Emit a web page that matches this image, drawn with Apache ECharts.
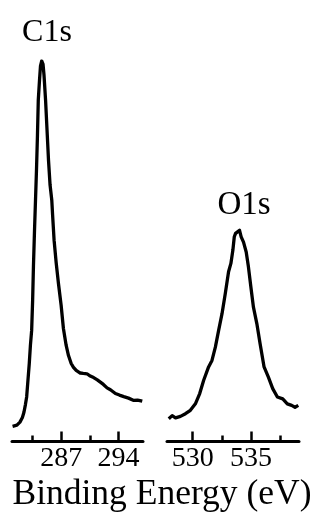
<!DOCTYPE html>
<html>
<head>
<meta charset="utf-8">
<script src="https://cdn.jsdelivr.net/npm/echarts@6/dist/echarts.min.js"></script>
<style>html,body{margin:0;padding:0;background:#fff;}#c{width:320px;height:525px;}</style>
</head>
<body>
<div id="c"></div>
<script>
// C1s region: binding energy (eV) and intensity (a.u., peak = 100)
var c1sEnergy = [281.07,281.60,281.97,282.27,282.46,282.64,282.79,282.95,283.11,283.25,283.40,283.52,283.62,283.75,283.87,283.99,284.11,284.21,284.36,284.48,284.63,284.79,284.91,285.10,285.28,285.46,285.65,285.86,285.96,286.14,286.39,286.67,287.00,287.28,287.61,287.90,288.23,288.51,288.84,289.33,289.70,290.16,290.56,290.97,291.42,291.79,292.16,292.61,293.02,293.63,294.12,294.65,295.23,295.88,296.33,296.91];
var c1sIntensity = [4.0,4.3,5.1,6.3,7.7,9.7,11.7,16.1,20.5,25.3,29.2,37.1,46.1,55.5,63.4,71.3,80.5,89.7,95.0,98.7,100,99.2,96.3,89.7,81.8,73.9,67.4,63.4,59.5,52.9,47.1,41.6,35.8,29.7,25.3,22.6,20.5,19.5,18.7,18.0,17.9,17.8,17.2,16.8,16.2,15.6,15.0,14.1,13.6,12.6,12.2,11.8,11.4,10.8,10.9,10.6];
// O1s region
var o1sEnergy = [527.95,528.24,528.53,528.95,529.38,529.80,530.23,530.60,530.94,531.36,531.65,531.94,532.22,532.51,532.79,533.07,533.27,533.44,533.56,533.67,533.84,534.01,534.15,534.35,534.58,534.77,534.98,535.20,535.49,535.77,536.11,536.48,536.85,537.25,537.71,538.10,538.47,538.76,539.04];
var o1sIntensity = [6.0,6.8,6.2,6.6,7.3,8.2,9.9,12.6,16.1,19.6,21.3,24.8,29.2,33.6,38.9,44.6,46.8,50.3,53.8,54.7,54.2,55.5,53.8,52.4,49.8,45.9,40.6,35.3,31.0,25.7,19.6,16.9,13.9,11.7,11.2,9.9,9.5,9.0,9.5];
// tick labels
var c1sMajorTicks = [287, 294];
var c1sMinorTicks = [283.5, 290.5];
var o1sMajorTicks = [530, 535];
var o1sMinorTicks = [532.5, 537.5];
var panelLabels = ['C1s', 'O1s'];
var xTitle = 'Binding Energy (eV)';

function zip(a, b) { return a.map(function (v, i) { return [v, b[i]]; }); }

var FONT = 'Liberation Serif';
var chart = echarts.init(document.getElementById('c'), null, {renderer: 'canvas'});

function majorAxis(grid, min, max, ticks) {
  return {
    type: 'value', gridIndex: grid, min: min, max: max, position: 'bottom',
    axisLine: {show: true, onZero: false, lineStyle: {color: '#000', width: 3}},
    axisTick: {show: true, inside: true, length: 10, customValues: ticks, lineStyle: {color: '#000', width: 2.5}},
    axisLabel: {show: true, customValues: ticks, color: '#000', fontFamily: FONT, fontSize: 28, margin: 3},
    splitLine: {show: false}
  };
}
function minorAxis(grid, min, max, ticks) {
  return {
    type: 'value', gridIndex: grid, min: min, max: max, position: 'bottom',
    axisLine: {show: false},
    axisTick: {show: true, inside: true, length: 6, customValues: ticks, lineStyle: {color: '#000', width: 2.5}},
    axisLabel: {show: false},
    splitLine: {show: false}
  };
}

var option = {
  animation: false,
  backgroundColor: '#fff',
  grid: [
    {left: 12, width: 131, top: 61, bottom: 83.5},
    {left: 167, width: 132, top: 61, bottom: 83.5}
  ],
  xAxis: [
    majorAxis(0, 281, 297, c1sMajorTicks),
    minorAxis(0, 281, 297, c1sMinorTicks),
    majorAxis(1, 527.8, 539.1, o1sMajorTicks),
    minorAxis(1, 527.8, 539.1, o1sMinorTicks)
  ],
  yAxis: [
    {type: 'value', gridIndex: 0, min: 0, max: 100, show: false},
    {type: 'value', gridIndex: 1, min: 0, max: 100, show: false}
  ],
  series: [
    {type: 'line', xAxisIndex: 0, yAxisIndex: 0, data: zip(c1sEnergy, c1sIntensity), showSymbol: false, symbol: 'none',
      lineStyle: {color: '#000', width: 3.3, join: 'round'}, silent: true},
    {type: 'line', xAxisIndex: 2, yAxisIndex: 1, data: zip(o1sEnergy, o1sIntensity), showSymbol: false, symbol: 'none',
      lineStyle: {color: '#000', width: 3.3, join: 'round'}, silent: true}
  ],
  graphic: [
    {type: 'text', x: 47, y: 33, style: {text: panelLabels[0], fill: '#000', font: '32px "Liberation Serif"', textAlign: 'center', textVerticalAlign: 'middle'}},
    {type: 'text', x: 244, y: 205, style: {text: panelLabels[1], fill: '#000', font: '33px "Liberation Serif"', textAlign: 'center', textVerticalAlign: 'middle'}},
    {type: 'text', x: 162, y: 495, style: {text: xTitle, fill: '#000', font: '35.5px "Liberation Serif"', textAlign: 'center', textVerticalAlign: 'middle'}}
  ]
};
chart.setOption(option);
</script>
</body>
</html>
